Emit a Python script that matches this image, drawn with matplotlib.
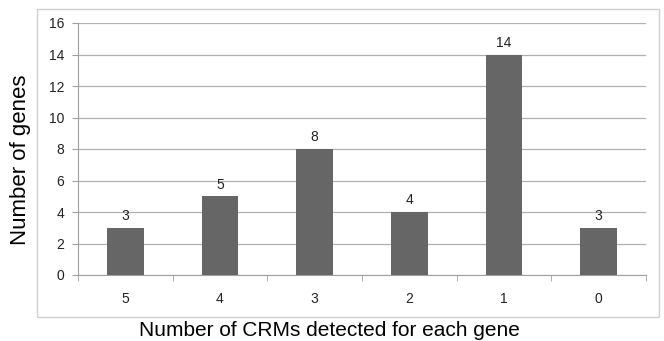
import matplotlib
matplotlib.use("Agg")
import matplotlib.pyplot as plt
from matplotlib.patches import Rectangle

categories = ["5", "4", "3", "2", "1", "0"]
genes = [3, 5, 8, 4, 14, 3]

plt.rcParams['font.family'] = ['Liberation Sans', 'DejaVu Sans']

fig = plt.figure(figsize=(6.64, 3.41), dpi=100)
W, H = 664, 341
ax = fig.add_axes([78 / W, 1 - 275 / H, (646 - 78) / W, (275 - 23) / H])

x = list(range(len(categories)))
ax.bar(x, genes, width=0.39, color="#666666", zorder=3)
for xi, v in zip(x, genes):
    ax.text(xi, v + 0.3, str(v), ha="center", va="bottom", fontsize=10, color="#222222")

ax.set_xlim(-0.5, len(categories) - 0.5)
ax.set_ylim(0, 16)
ax.set_yticks(range(0, 17, 2))
ax.set_xticks(x)
ax.set_xticklabels(categories)
ax.set_xticks([i - 0.5 for i in range(len(categories) + 1)], minor=True)
ax.tick_params(axis="x", which="major", length=0, pad=12, labelsize=10, labelcolor="#222222")
ax.tick_params(axis="x", which="minor", length=4, color="#a0a0a0")
ax.tick_params(axis="y", length=4, color="#a0a0a0", labelsize=10, pad=6, labelcolor="#222222")
ax.grid(axis="y", color="#b0b0b0", linewidth=0.9, zorder=0)
for s in ["top", "right"]:
    ax.spines[s].set_visible(False)
for s in ["left", "bottom"]:
    ax.spines[s].set_color("#a0a0a0")

# outer chart border
fig.patches.append(Rectangle((37 / W, 1 - 317 / H), (659 - 37) / W, (317 - 9) / H,
                             transform=fig.transFigure, fill=False,
                             edgecolor="#d0d0d0", linewidth=1))

fig.text(21 / W, 1 - 160 / H, "Number of genes", rotation=90, ha="center", va="center", fontsize=16)
fig.text(329 / W, 1 - 330 / H, "Number of CRMs detected for each gene", ha="center", va="center", fontsize=15)

fig.savefig("out.png", dpi=100)
